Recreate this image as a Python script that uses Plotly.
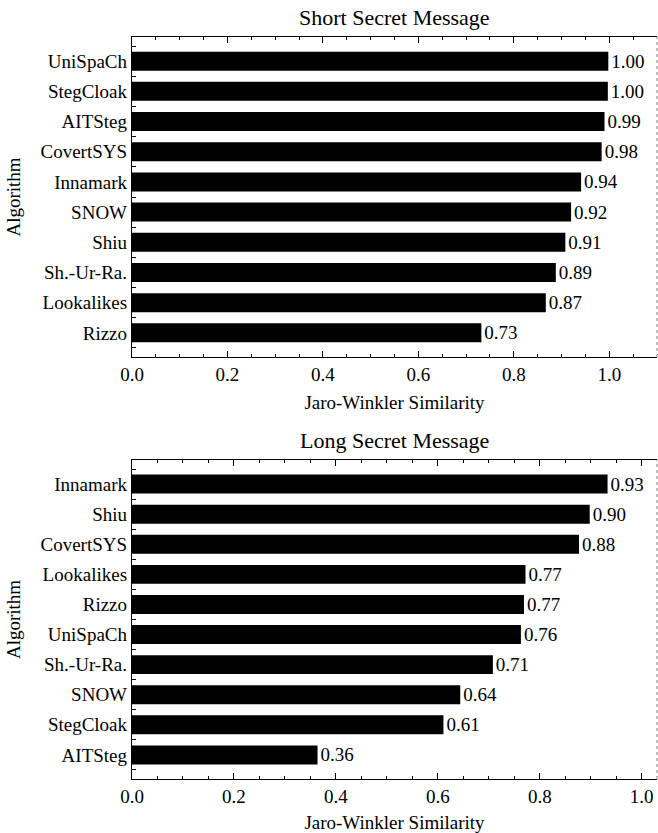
import plotly.graph_objects as go

# 데이터
short_algos = ["UniSpaCh", "StegCloak", "AITSteg", "CovertSYS", "Innamark",
               "SNOW", "Shiu", "Sh.-Ur-Ra.", "Lookalikes", "Rizzo"]
short_scores = [0.998, 0.997, 0.990, 0.984, 0.941, 0.920, 0.908, 0.888, 0.867, 0.732]

long_algos = ["Innamark", "Shiu", "CovertSYS", "Lookalikes", "Rizzo",
              "UniSpaCh", "Sh.-Ur-Ra.", "SNOW", "StegCloak", "AITSteg"]
long_scores = [0.933, 0.898, 0.877, 0.772, 0.769, 0.763, 0.708, 0.644, 0.611, 0.364]

x_ticks = [0.0, 0.2, 0.4, 0.6, 0.8, 1.0]

FONT = "Liberation Serif"
FS = 19

fig = go.Figure()

fig.add_trace(go.Bar(
    x=short_scores, y=short_algos, orientation='h',
    marker=dict(color='black', line=dict(width=0)),
    texttemplate='%{x:.2f}', textposition='outside', constraintext='none',
    textfont=dict(family=FONT, size=FS, color='black'),
    cliponaxis=False, xaxis='x', yaxis='y', showlegend=False
))
fig.add_trace(go.Bar(
    x=long_scores, y=long_algos, orientation='h',
    marker=dict(color='black', line=dict(width=0)),
    texttemplate='%{x:.2f}', textposition='outside', constraintext='none',
    textfont=dict(family=FONT, size=FS, color='black'),
    cliponaxis=False, xaxis='x2', yaxis='y2', showlegend=False
))

H = 833


def xaxis_cfg(rng, anchor):
    return dict(
        range=rng, anchor=anchor, domain=[0, 1],
        tickvals=x_ticks, ticktext=[f"{v:.1f}" for v in x_ticks],
        ticks='inside', ticklen=6, tickwidth=1, tickcolor='black',
        minor=dict(dtick=0.05, tick0=0, ticks='inside', ticklen=3, tickcolor='black'),
        showline=True, linecolor='black', linewidth=1.3, mirror='ticks',
        showgrid=False, zeroline=False,
        tickfont=dict(family=FONT, size=FS, color='black'),
        title=dict(text='Jaro-Winkler Similarity', standoff=11,
                   font=dict(family=FONT, size=FS, color='black')),
    )


def yaxis_cfg(cats, dom, anchor):
    return dict(
        domain=dom, anchor=anchor,
        categoryorder='array', categoryarray=cats[::-1],
        range=[-0.8, 9.8],
        ticks='inside', ticklen=4, tickcolor='black', tickson='boundaries',
        showline=True, linecolor='black', linewidth=1.3,
        showgrid=False, zeroline=False,
        tickfont=dict(family=FONT, size=FS, color='black'),
        title=dict(text='Algorithm', standoff=14,
                   font=dict(family=FONT, size=FS, color='black')),
    )


top_dom = [1 - 357 / H, 1 - 37 / H]
bot_dom = [1 - 779 / H, 1 - 460 / H]

fig.update_layout(
    width=658, height=833,
    margin=dict(l=132, r=1, t=0, b=0),
    paper_bgcolor='white', plot_bgcolor='white',
    bargap=0.37,
    font=dict(family=FONT, color='black'),
    xaxis=xaxis_cfg([0, 1.1], 'y'),
    yaxis=yaxis_cfg(short_algos, top_dom, 'x'),
    xaxis2=xaxis_cfg([0, 1.03], 'y2'),
    yaxis2=yaxis_cfg(long_algos, bot_dom, 'x2'),
    annotations=[
        dict(text='Short Secret Message', x=0.5, xref='paper', y=top_dom[1], yref='paper',
             yanchor='bottom', yshift=5, showarrow=False,
             font=dict(family=FONT, size=22, color='black')),
        dict(text='Long Secret Message', x=0.5, xref='paper', y=bot_dom[1], yref='paper',
             yanchor='bottom', yshift=5, showarrow=False,
             font=dict(family=FONT, size=22, color='black')),
    ],
    shapes=[
        dict(type='line', xref='x domain', yref='y domain', x0=1, x1=1, y0=0, y1=1,
             line=dict(color='gray', width=1, dash='dot')),
        dict(type='line', xref='x2 domain', yref='y2 domain', x0=1, x1=1, y0=0, y1=1,
             line=dict(color='gray', width=1, dash='dot')),
    ],
)

fig.write_html("out.html", config={'displayModeBar': False},
               post_script="document.body.style.margin='0';")
